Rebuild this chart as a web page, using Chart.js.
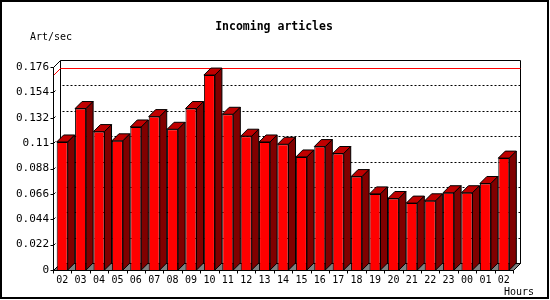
<!DOCTYPE html>
<html lang="en">
<head>
<meta charset="UTF-8">
<title>Incoming articles</title>
<script src="https://cdn.jsdelivr.net/npm/chart.js"></script>
<style>
  body { margin: 0; background: #fff; }
  canvas { display: block; }
</style>
</head>
<body>
<canvas id="articlesChart" width="550" height="300"></canvas>
<script>
// hourly incoming rate
const hours = ['02', '03', '04', '05', '06', '07', '08', '09', '10', '11', '12', '13',
               '14', '15', '16', '17', '18', '19', '20', '21', '22', '23', '00', '01', '02'];
const artPerSec = [0.111, 0.140, 0.120, 0.112, 0.124, 0.133, 0.122, 0.140, 0.169, 0.135, 0.116, 0.111,
                   0.109, 0.098, 0.107, 0.101, 0.081, 0.066, 0.062, 0.058, 0.060, 0.067, 0.067, 0.075, 0.097];
const yTicks = [0, 0.022, 0.044, 0.066, 0.088, 0.11, 0.132, 0.154, 0.176];

const DX = 7, DY = 7;       // depth of the 3d effect
const mono = '"DejaVu Sans Mono", "Liberation Mono", monospace';

function poly(ctx, pts, fill) {
    ctx.beginPath();
    ctx.moveTo(pts[0][0], pts[0][1]);
    for (let i = 1; i < pts.length; i++) ctx.lineTo(pts[i][0], pts[i][1]);
    ctx.closePath();
    if (fill) { ctx.fillStyle = fill; ctx.fill(); }
    ctx.strokeStyle = '#000';
    ctx.lineWidth = 1;
    ctx.stroke();
}

function line(ctx, x1, y1, x2, y2, color) {
    ctx.beginPath();
    ctx.moveTo(x1, y1);
    ctx.lineTo(x2, y2);
    ctx.strokeStyle = color || '#000';
    ctx.lineWidth = 1;
    ctx.stroke();
}

const box3d = {
    id: 'box3d',
    beforeDraw(chart) {
        const ctx = chart.ctx;
        ctx.save();
        ctx.fillStyle = '#fff';
        ctx.fillRect(0, 0, chart.width, chart.height);
        ctx.strokeStyle = '#000';
        ctx.lineWidth = 2;
        ctx.strokeRect(1, 1, 547, 297);
        ctx.restore();
    },
    beforeDatasetsDraw(chart) {
        const { ctx, chartArea: a, scales: { x, y } } = chart;
        const L = a.left + 0.5, R = a.right + 0.5, T = a.top + 0.5, B = a.bottom + 0.5;
        ctx.save();

        // floor
        poly(ctx, [[L, B], [L + DX, B - DY], [R + DX, B - DY], [R, B]], '#808080');
        // back wall
        poly(ctx, [[L + DX, T - DY], [R + DX, T - DY], [R + DX, B - DY], [L + DX, B - DY]], '#fff');

        // dotted grid on the back wall
        ctx.setLineDash([2, 2]);
        yTicks.forEach(v => {
            if (v === 0 || v === yTicks[yTicks.length - 1]) return;
            const py = Math.round(y.getPixelForValue(v)) + 0.5 - DY;
            line(ctx, L + DX + 2, py, R + DX, py);
        });
        ctx.setLineDash([]);

        // max line
        const my = Math.round(y.getPixelForValue(Math.max(...artPerSec))) + 0.5;
        line(ctx, L, my, L + DX, my - DY, '#f00');
        line(ctx, L + DX, my - DY, R + DX, my - DY, '#f00');

        // left wall edges and y ticks
        line(ctx, L, T, L, B);
        line(ctx, L, T, L + DX, T - DY);
        yTicks.forEach(v => {
            const py = Math.round(y.getPixelForValue(v)) + 0.5;
            line(ctx, L - 3, py, L, py);
            line(ctx, L, py, L + 2, py - 2);
        });

        // front floor edge and x ticks
        line(ctx, L, B, R, B);
        line(ctx, R, B, R + DX, B - DY);
        const step = (a.right - a.left) / hours.length;
        for (let i = 0; i <= hours.length; i++) {
            const px = Math.round(x.getPixelForTick(Math.min(i, hours.length - 1)) + (i === hours.length ? step / 2 : -step / 2)) + 0.5;
            line(ctx, px, B, px, B + 3);
        }
        ctx.restore();
    },
    afterDatasetsDraw(chart) {
        const ctx = chart.ctx;
        ctx.save();
        chart.getDatasetMeta(0).data.forEach(bar => {
            const { x: cx, y: top, base, width } = bar.getProps(['x', 'y', 'base', 'width'], true);
            const l = cx - width / 2, r = cx + width / 2;
            poly(ctx, [[l, top], [l + DX, top - DY], [r + DX, top - DY], [r, top]], '#c00000');
            poly(ctx, [[r, top], [r + DX, top - DY], [r + DX, base - DY], [r, base]], '#800000');
        });
        ctx.restore();
    },
    afterDraw(chart) {
        const ctx = chart.ctx;
        ctx.save();
        ctx.fillStyle = '#000';
        ctx.textBaseline = 'middle';
        ctx.font = 'bold 11.5px ' + mono;
        ctx.textAlign = 'center';
        ctx.fillText('Incoming articles', 274, 27);
        ctx.font = '10px ' + mono;
        ctx.textAlign = 'left';
        ctx.fillText('Art/sec', 30, 37);
        ctx.fillText('Hours', 504, 292);
        ctx.restore();
    }
};

new Chart(document.getElementById('articlesChart'), {
    type: 'bar',
    data: {
        labels: hours,
        datasets: [{
            label: 'Art/sec',
            data: artPerSec,
            backgroundColor: '#ff0000',
            borderColor: '#000',
            borderWidth: 1,
            categoryPercentage: 1.0,
            barPercentage: 0.6
        }]
    },
    options: {
        responsive: false,
        animation: false,
        devicePixelRatio: 1,
        layout: { padding: { left: 0, top: 67, right: 37, bottom: 0 } },
        plugins: {
            legend: { display: false },
            tooltip: { enabled: false },
            title: { display: false }
        },
        scales: {
            x: {
                grid: { display: false, drawTicks: false },
                border: { display: false },
                ticks: { color: '#000', font: { family: mono, size: 10 }, padding: 4, maxRotation: 0, autoSkip: false },
                afterFit(scale) { scale.height = 30; }
            },
            y: {
                min: 0,
                max: 0.176,
                grid: { display: false, drawTicks: false },
                border: { display: false },
                afterBuildTicks(scale) { scale.ticks = yTicks.map(v => ({ value: v })); },
                ticks: { color: '#000', font: { family: mono, size: 11 }, padding: 4, callback: v => String(v) },
                afterFit(scale) { scale.width = 53; }
            }
        }
    },
    plugins: [box3d]
});
</script>
</body>
</html>
